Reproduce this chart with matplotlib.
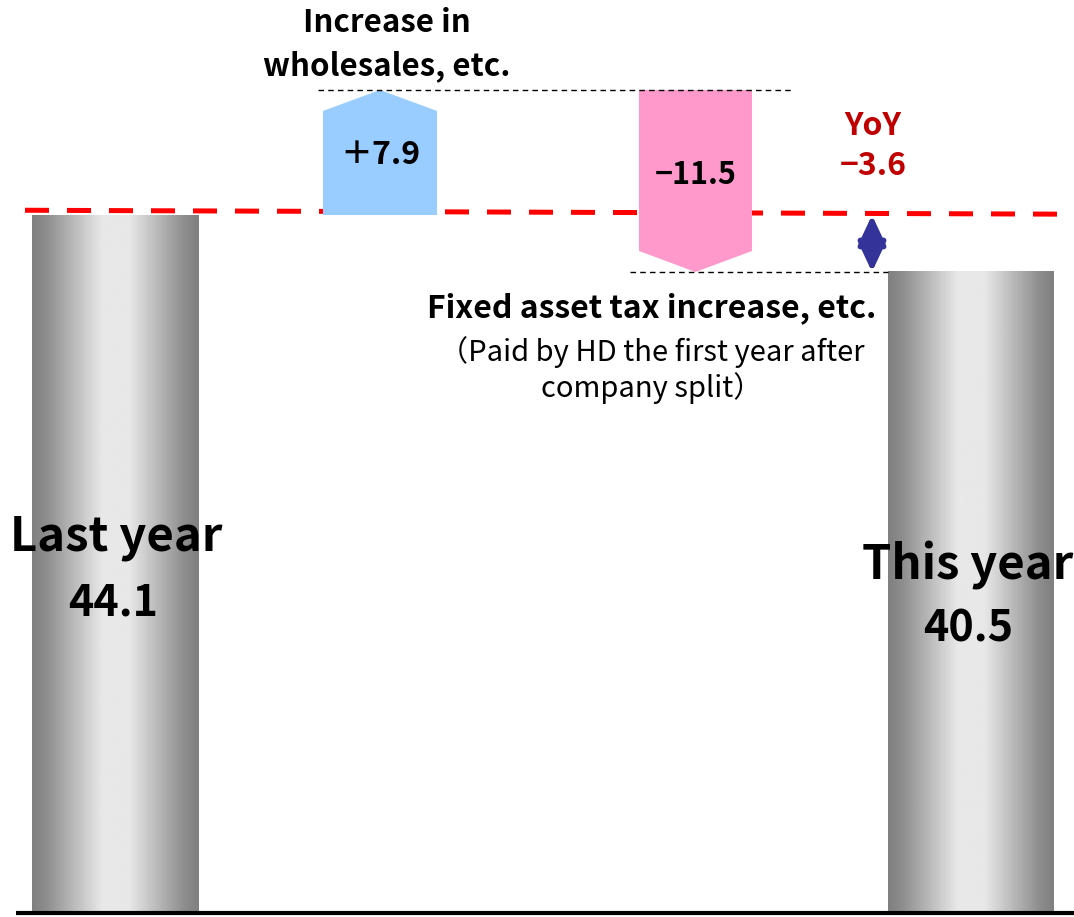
import matplotlib.pyplot as plt
import numpy as np
from matplotlib.patches import Polygon

# operating profit bridge (values)
last_year = 44.1
changes = [7.9, -11.5]
this_year = 40.5
yoy = -3.6

change_labels = ["＋7.9", "−11.5"]
total_names = ["Last year", "This year"]
total_values = ["44.1", "40.5"]
note_up = "Increase in\nwholesales, etc."
note_down_title = "Fixed asset tax increase, etc."
note_down_sub = "（Paid by HD the first year after\ncompany split）"
yoy_label = "YoY\n−3.6"

FONT = ["Noto Sans CJK JP", "DejaVu Sans"]
plt.rcParams["font.family"] = FONT

W, H = 1074, 917
PX = 698 / last_year  # pixels per unit
BASE_PX = 913

fig = plt.figure(figsize=(W / 100, H / 100), dpi=100)
ax = fig.add_axes([0, 0, 1, 1])
ax.set_xlim(0, W)
ax.set_ylim(-(H - BASE_PX) / PX, BASE_PX / PX)
ax.axis("off")


def ypos(px):
    # screen row -> data units
    return (BASE_PX - px) / PX


def gradient_bar(x0, x1, height):
    t = np.linspace(0, 1, 256)
    g = np.interp(t, [0, 0.08, 0.42, 0.58, 0.92, 1], [128, 140, 232, 232, 140, 128]) / 255
    img = np.tile(g, (2, 1))
    ax.imshow(img, cmap="gray", vmin=0, vmax=1, extent=[x0, x1, 0, height],
              aspect="auto", interpolation="bilinear", zorder=2)


gradient_bar(32, 199, last_year)
gradient_bar(888, 1054, this_year)

# step arrows
notch = 21 / PX
top = last_year + changes[0]
up = Polygon([(323, last_year), (437, last_year), (437, top - notch),
              (380, top), (323, top - notch)], closed=True,
             facecolor="#99ccff", edgecolor="none", zorder=3)
down = Polygon([(639, top), (752, top), (752, this_year + notch),
                (695.5, this_year), (639, this_year + notch)], closed=True,
               facecolor="#ff99cc", edgecolor="none", zorder=3)
ax.add_patch(up)
ax.add_patch(down)

# reference lines
ax.plot([25, W], [last_year + 0.3, last_year + 0.05], color="#ff0000", lw=3.6,
        dashes=(4.8, 3.6), zorder=2.5)
ax.plot([318, 793], [top, top], color="black", lw=1.0, dashes=(4, 3), zorder=4)
ax.plot([630, 888], [this_year, this_year], color="black", lw=1.0, dashes=(4, 3), zorder=4)
ax.plot([16, W], [0, 0], color="black", lw=3, solid_capstyle="butt", zorder=5)

ax.annotate("", xy=(872, this_year), xytext=(872, last_year),
            arrowprops=dict(arrowstyle="<|-|>,head_length=0.9,head_width=0.42",
                            mutation_scale=20, color="#333399", lw=4,
                            shrinkA=0, shrinkB=0), zorder=6)

# labels
ax.text(380, ypos(155), change_labels[0], ha="center", va="center",
        fontsize=23, fontweight="bold", zorder=6)
ax.text(695.5, ypos(175), change_labels[1], ha="center", va="center",
        fontsize=22, fontweight="bold", zorder=6)
ax.text(387, ypos(45), note_up, ha="center", va="center", fontsize=22.5,
        fontweight="bold", linespacing=1.45)
ax.text(873, ypos(146), yoy_label, ha="center", va="center", fontsize=23,
        fontweight="bold", color="#c00000", linespacing=1.3)
ax.text(652, ypos(308), note_down_title, ha="center", va="center",
        fontsize=23, fontweight="bold")
ax.text(652, ypos(370), note_down_sub, ha="center", va="center",
        fontsize=21, linespacing=1.2)
ax.text(116, ypos(537), total_names[0], ha="center", va="center",
        fontsize=34, fontweight="bold", zorder=6)
ax.text(113, ypos(602), total_values[0], ha="center", va="center",
        fontsize=31, fontweight="bold", zorder=6)
ax.text(968, ypos(565), total_names[1], ha="center", va="center",
        fontsize=34, fontweight="bold", zorder=6)
ax.text(968, ypos(628), total_values[1], ha="center", va="center",
        fontsize=31, fontweight="bold", zorder=6)

fig.savefig("out.png", dpi=100, facecolor="white")
